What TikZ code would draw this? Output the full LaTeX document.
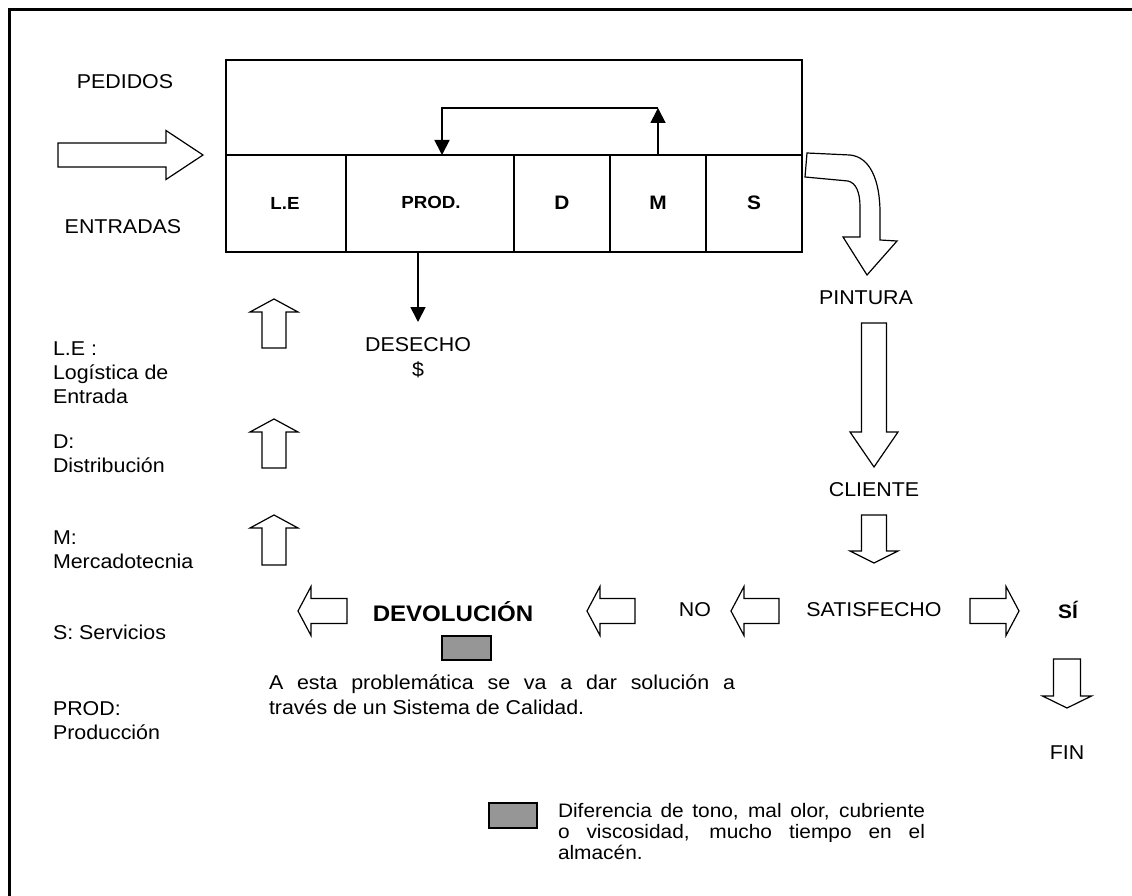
\documentclass[tikz,border=0pt]{standalone}
\usepackage{fontspec}
\setmainfont{Liberation Sans}[FakeStretch=1.07]
\usetikzlibrary{arrows.meta}
\definecolor{swatchgray}{RGB}{150,150,150}

\tikzset{
  pics/barrow/.style args={#1/#2/#3/#4}{code={%
    % tip at the origin, pointing towards +x: head length / head half width / shaft half width / total length
    \draw[blk] (0,0) -- (-#1,#2) -- (-#1,#3) -- (-#4,#3) -- (-#4,-#3) -- (-#1,-#3) -- (-#1,-#2) -- cycle;}},
}

\begin{document}
\begin{tikzpicture}[x=1pt,y=-1pt,
  every node/.style={inner sep=0pt, outer sep=0pt},
  txt/.style={font=\fontsize{20}{24}\selectfont},
  boldtxt/.style={font=\bfseries\fontsize{19.5}{24}\selectfont},
  bigbold/.style={font=\bfseries\fontsize{22.5}{26}\selectfont},
  smallbold/.style={font=\bfseries\fontsize{17.5}{20}\selectfont},
  legend/.style={txt, anchor=north west, align=left},
  para/.style={anchor=north west, align=justify},
  frame/.style={draw=black, line width=3pt},
  boxline/.style={draw=black, line width=2pt},
  flow/.style={line width=1.8pt, -{Triangle[length=15pt,width=15pt]}},
  blk/.style={draw=black, fill=white, line width=1.2pt, line join=miter},
  swatch/.style={draw=black, fill=swatchgray, line width=1.8pt},
]
\useasboundingbox (0,0) rectangle (1132,896);
\clip (0,0) rectangle (1132,896);
\fill[white] (0,0) rectangle (1132,896);

% outer frame
\draw[frame] (9,10) rectangle (1150,910);

% value chain block
\draw[boxline] (226,60) rectangle (802,252);
\draw[boxline] (226,155) -- (802,155);
\foreach \x in {346,514,610,706} \draw[boxline] (\x,155) -- (\x,252);
\node[smallbold] (le) at (285,203) {L.E};
\node[smallbold] (prod) at (431,202) {PROD.};
\node[boldtxt] (d) at (562,203) {D};
\node[boldtxt] (m) at (658,203) {M};
\node[boldtxt] (s) at (754,203) {S};

% feedback from M to PROD.
\coordinate (mtop) at (658,155);
\coordinate (mup) at (658,108);
\coordinate (ptop) at (442,155);
\draw[flow] (mtop) -- (mup);
\draw[flow] (mup) -| (ptop);

% waste
\coordinate (pbot) at (418,252);
\node[txt, align=center, anchor=north, font=\fontsize{20}{25}\selectfont] (desecho) at (418,338) {DESECHO\\\$};
\draw[flow] (pbot) -- (418,322);

% inputs
\node[txt] (pedidos) at (125,82) {PEDIDOS};
\node[txt] (entradas) at (123,227) {ENTRADAS};
\pic (inarrow) at (203,155) {barrow=37/24.5/12/145};

% output curved arrow
\draw[blk] (807,153) -- (850,155) .. controls (870,157) and (880,180) .. (880,213)
  -- (880,240) -- (897,241) -- (867,275) -- (843,237) -- (860,237) -- (860,207)
  .. controls (860,192) and (856,183) .. (848,181) -- (805,177) -- cycle;

\node[txt] (pintura) at (866,298) {PINTURA};
\pic[rotate=-90] (a1) at (874,467) {barrow=35/24/12.5/144};
\node[txt] (cliente) at (874,490) {CLIENTE};
\pic[rotate=-90] (a2) at (874,563) {barrow=12/24/12.5/48};
\node[txt] (satisf) at (874,610) {SATISFECHO};

% decision row
\pic[rotate=180] (a3) at (731,611) {barrow=13/24.5/12.5/48};
\node[txt] (no) at (695,610) {NO};
\pic[rotate=180] (a4) at (587,611) {barrow=13/24.5/12.5/48};
\node[bigbold] (devol) at (453,612) {DEVOLUCIÓN};
\pic[rotate=180] (a5) at (298,611) {barrow=13/24.5/12.5/49};
\pic (a6) at (1019,611) {barrow=13/24.5/12.5/49};
\node[font=\bfseries\fontsize{19.5}{22}\selectfont] (si) at (1068,610) {SÍ};
\pic[rotate=-90] (a7) at (1067,708) {barrow=12/24.5/13.5/49};
\node[txt] (fin) at (1067,753) {FIN};

\node[swatch, minimum width=49pt, minimum height=24pt] (sw1) at (466.5,648) {};
\node[para, txt, text width=466pt, font=\fontsize{20}{25}\selectfont] (sol) at (269,675)
  {\tolerance=9999\hbadness=10000 A esta problemática se va a dar solución a\linebreak través de un Sistema de Calidad.};

% upward arrows
\pic[rotate=90] (u1) at (274,299) {barrow=13/24/12/49};
\pic[rotate=90] (u2) at (274,419) {barrow=13/24/12/49};
\pic[rotate=90] (u3) at (274,515) {barrow=13/24/12/50};

% abbreviations
\node[legend] (k1) at (53,342) {L.E :\\Logística de\\Entrada};
\node[legend] (k2) at (53,435) {D:\\Distribución};
\node[legend] (k3) at (53,531) {M:\\Mercadotecnia};
\node[legend] (k4) at (53,625) {S: Servicios};
\node[legend] (k5) at (53,702) {PROD:\\Producción};

% key for the grey mark
\node[swatch, minimum width=48pt, minimum height=25pt] (sw2) at (513,815.5) {};
\node[para, txt, text width=367pt, font=\fontsize{19.5}{21}\selectfont] (key) at (558,803)
  {\tolerance=9999\hbadness=10000 Diferencia de tono, mal olor, cubriente\linebreak o viscosidad, mucho tiempo en el\linebreak almacén.};
\end{tikzpicture}
\end{document}
